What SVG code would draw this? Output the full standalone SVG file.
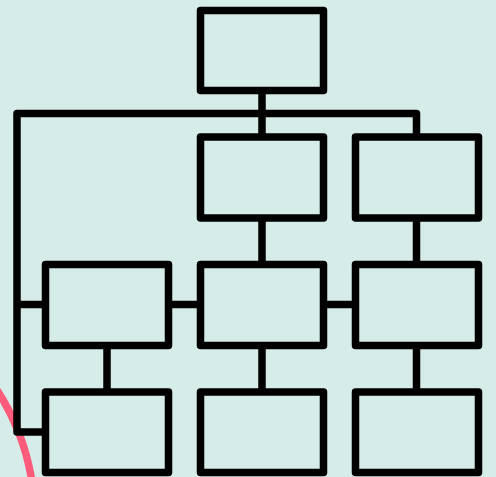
<svg xmlns="http://www.w3.org/2000/svg" width="496" height="477" viewBox="0 0 496 477">
  <style>
    .box { fill: #d5ece8; stroke: #000; stroke-width: 7.5; stroke-linejoin: round; }
    .conn { fill: none; stroke: #000; stroke-width: 7.5; stroke-linejoin: round; }
  </style>
  <rect x="0" y="0" width="496" height="477" fill="#d5ece8"/>
  <circle cx="-198" cy="517" r="232.6" fill="none" stroke="#ff5b7b" stroke-width="7.5"/>
  <g id="connectors">
    <path class="conn" d="M 45.5 432 H 17 V 113.5 H 416.5 V 137"/>
    <path class="conn" d="M 17 304.5 H 45.5"/>
    <path class="conn" d="M 262 90.5 V 137"/>
    <path class="conn" d="M 262 218 V 264.5"/>
    <path class="conn" d="M 262 345.5 V 392"/>
    <path class="conn" d="M 416.5 218 V 264.5"/>
    <path class="conn" d="M 416.5 345.5 V 392"/>
    <path class="conn" d="M 107 345.5 V 392"/>
    <path class="conn" d="M 168.5 304.5 H 200.5"/>
    <path class="conn" d="M 323.5 304.5 H 355.5"/>
  </g>
  <g id="node-top"><rect class="box" x="200.5" y="10.5" width="123" height="80"/></g>
  <g id="node-r2-mid"><rect class="box" x="200.5" y="137" width="123" height="81"/></g>
  <g id="node-r2-right"><rect class="box" x="355.5" y="137" width="123" height="81"/></g>
  <g id="node-r3-left"><rect class="box" x="45.5" y="264.5" width="123" height="81"/></g>
  <g id="node-r3-mid"><rect class="box" x="200.5" y="264.5" width="123" height="81"/></g>
  <g id="node-r3-right"><rect class="box" x="355.5" y="264.5" width="123" height="81"/></g>
  <g id="node-r4-left"><rect class="box" x="45.5" y="392" width="123" height="80.5"/></g>
  <g id="node-r4-mid"><rect class="box" x="200.5" y="392" width="123" height="80.5"/></g>
  <g id="node-r4-right"><rect class="box" x="355.5" y="392" width="123" height="80.5"/></g>
</svg>
